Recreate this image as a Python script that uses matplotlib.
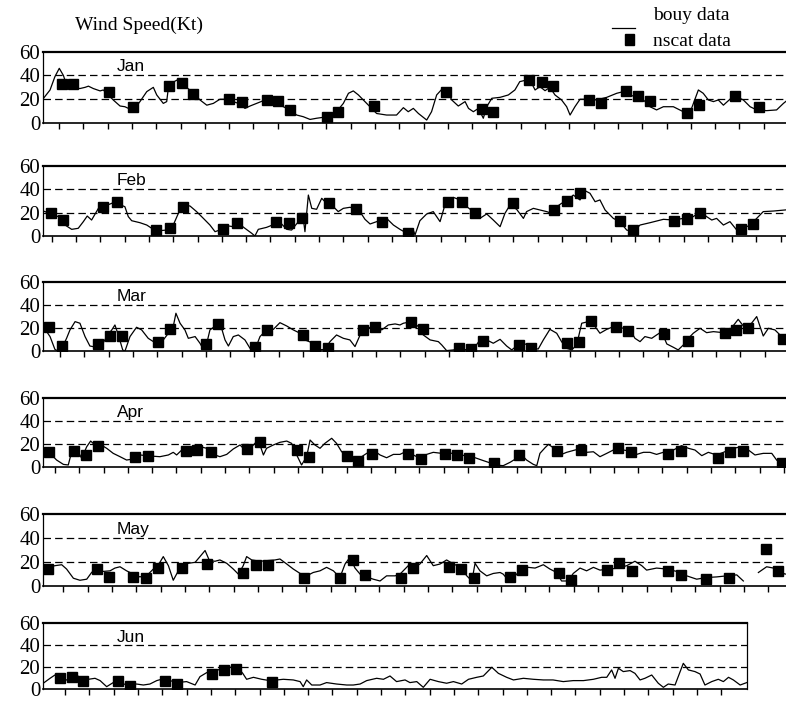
import numpy as np
import matplotlib
matplotlib.use('Agg')
from matplotlib import pyplot as plt
from matplotlib.lines import Line2D
from matplotlib.patches import Rectangle

plt.rcParams['font.family'] = ['Liberation Serif', 'DejaVu Serif']

months = ['Jan', 'Feb', 'Mar', 'Apr', 'May', 'Jun']

# buoy wind speed (kt) vs day of month
jan_day = [0.01, 0.29, 0.49, 0.67, 0.84, 0.97, 1.18, 1.52, 1.73, 1.87, 2.07, 2.35, 2.48, 2.69, 2.89, 3.17, 3.37, 3.65, 3.85, 3.99,
           4.27, 4.54, 4.68, 4.95, 5.09, 5.19, 5.29, 5.50, 5.71, 5.91, 6.19, 6.46, 6.74, 7.01, 7.28, 7.56, 7.83, 8.11, 8.31, 8.52,
           8.79, 9.07, 9.34, 9.62, 9.89, 10.16, 10.44, 10.71, 10.99, 11.26, 11.54, 11.81, 12.08, 12.36, 12.57, 12.77, 12.98, 13.32, 13.73, 14.14,
           14.55, 14.83, 15.03, 15.24, 15.45, 15.79, 15.99, 16.20, 16.41, 16.61, 16.82, 17.09, 17.37, 17.51, 17.71, 17.92, 18.12, 18.26, 18.47, 18.81,
           19.15, 19.42, 19.62, 19.90, 20.11, 20.25, 20.45, 20.66, 20.86, 21.07, 21.34, 21.55, 21.69, 21.89, 22.10, 22.37, 22.78, 23.20, 23.61, 23.88,
           24.16, 24.43, 24.71, 24.98, 25.25, 25.53, 25.94, 26.35, 26.69, 26.97, 27.17, 27.38, 27.59, 27.79, 28.00, 28.27, 28.55, 28.82, 29.10, 29.37,
           29.78, 30.19, 30.47, 30.62]
jan_buoy = [20.5, 27.8, 39, 46, 40, 32, 30, 29, 30, 31, 29, 27, 27.8, 23.6, 19.4, 14.3, 13.7, 11, 14.3, 18,
            26.4, 30, 23.6, 16.5, 18, 34.8, 33.5, 36, 34.8, 30, 25, 19.4, 15, 16.5, 20, 20, 18, 16, 12.3, 14.3,
            16.5, 18.8, 18.8, 17, 13.7, 11, 6.7, 5.3, 3, 4, 4.8, 6.7, 9.5, 16.5, 25, 27, 23.6, 16.5, 8, 6.7,
            6.7, 12.9, 9.5, 12.3, 8, 2.5, 9.5, 23.6, 28.3, 28.3, 19.4, 14.3, 18, 12.3, 9.5, 12.3, 4, 13.7, 20.8, 21.6,
            23.6, 27.8, 34.8, 36.2, 33.4, 27.8, 30.6, 27.2, 30, 23.6, 19.4, 13.7, 6.7, 13.7, 20, 20, 19.4, 21.6, 25, 26.4,
            23.6, 21.6, 19.4, 13.7, 11, 13.7, 13.7, 9.5, 12.3, 27.8, 25, 19.4, 18, 19.4, 15, 20, 22, 19.4, 13.7, 11,
            10.4, 11, 16.5, 19]

feb_day = [0.01, 0.29, 0.63, 0.91, 1.18, 1.45, 1.66, 1.82, 2.00, 2.28, 2.55, 2.83, 3.03, 3.20, 3.37, 3.51, 3.65, 3.99, 4.27, 4.54,
           4.81, 5.09, 5.36, 5.57, 5.78, 6.05, 6.32, 6.60, 6.87, 7.08, 7.35, 7.63, 7.83, 8.04, 8.31, 8.59, 8.72, 8.86, 9.20, 9.55,
           9.82, 10.03, 10.23, 10.51, 10.71, 10.78, 10.92, 11.06, 11.26, 11.47, 11.67, 11.95, 12.15, 12.36, 12.63, 12.98, 13.25, 13.46, 13.73, 14.14,
           14.42, 14.69, 15.03, 15.24, 15.31, 15.51, 15.79, 16.06, 16.34, 16.54, 16.89, 17.16, 17.44, 17.71, 17.98, 18.26, 18.53, 18.81, 19.01, 19.22,
           19.49, 19.77, 19.90, 20.18, 20.45, 20.73, 20.93, 21.14, 21.34, 21.62, 21.82, 22.10, 22.30, 22.51, 22.72, 22.92, 23.13, 23.47, 23.74, 24.02,
           24.29, 24.57, 24.98, 25.53, 25.94, 26.35, 26.76, 27.04, 27.31, 27.52, 27.72, 28.00, 28.27, 28.55, 28.82, 29.10, 29.37, 29.64, 30.06, 30.53,
           30.62]
feb_buoy = [21.4, 19.4, 16.6, 9.4, 5.7, 6.6, 12.3, 17.1, 13.7, 23.7, 25.7, 28, 30.9, 26.6, 25.1, 16.6, 13.1, 11.4, 9.4, 5.7,
            4.6, 5.1, 9.4, 19.4, 26.6, 25.7, 20.9, 15.1, 9.4, 3.7, 5.7, 8.6, 8.0, 10.9, 6.6, 2.3, 0.0, 5.7, 7.4, 10.3,
            10.3, 5.7, 5.1, 12.3, 15.1, 3.7, 35.1, 23.7, 22.9, 32.3, 28, 25.1, 20.9, 23.7, 24.6, 22.9, 14.3, 10.3, 12.3, 15.1,
            9.4, 5.7, 1.7, 5.1, 0.9, 13.1, 18.9, 20.9, 12.3, 26.6, 33.1, 30.9, 25.1, 20.9, 15.1, 18.9, 13.7, 8.0, 19.4, 26.6,
            22.9, 15.1, 20.9, 23.7, 22.3, 20.9, 19.4, 25.1, 28, 30.9, 35.1, 30.9, 38.9, 36.6, 29.4, 30.9, 22.3, 15.1, 12.3, 5.1,
            3.7, 9.4, 11.4, 14.3, 13.7, 15.1, 16.6, 20.9, 16.6, 13.7, 15.1, 9.4, 12.3, 5.1, 6.6, 9.4, 15.1, 20.9, 21.4, 22.3,
            22.5]

mar_day = [0.01, 0.29, 0.49, 0.63, 0.84, 0.97, 1.11, 1.32, 1.52, 1.73, 1.93, 2.21, 2.41, 2.62, 2.83, 2.96, 3.10, 3.28, 3.37, 3.58,
           3.85, 4.06, 4.33, 4.61, 4.95, 5.16, 5.36, 5.47, 5.64, 5.84, 5.98, 6.26, 6.46, 6.60, 6.74, 6.87, 7.15, 7.35, 7.49, 7.63,
           7.83, 8.04, 8.31, 8.52, 8.72, 8.93, 9.20, 9.48, 9.75, 10.03, 10.30, 10.58, 10.78, 11.06, 11.33, 11.60, 11.81, 12.08, 12.36, 12.63,
           12.84, 13.05, 13.32, 13.66, 13.94, 14.21, 14.49, 14.69, 14.83, 15.17, 15.45, 15.65, 15.93, 16.27, 16.41, 16.61, 16.89, 17.16, 17.44, 17.71,
           17.98, 18.26, 18.53, 18.81, 19.08, 19.29, 19.49, 19.90, 20.18, 20.38, 20.59, 20.86, 21.14, 21.34, 21.55, 21.76, 21.96, 22.17, 22.44, 22.72,
           22.92, 23.20, 23.54, 23.88, 24.16, 24.36, 24.57, 24.77, 25.05, 25.25, 25.46, 25.67, 25.94, 26.14, 26.35, 26.56, 26.76, 27.04, 27.31, 27.59,
           28.00, 28.27, 28.61, 28.82, 29.03, 29.37, 29.64, 29.85, 30.12, 30.47, 30.62]
mar_buoy = [21.5, 12.8, 1.7, 0, 5.5, 11.3, 18.6, 25.8, 24.4, 12.8, 4.6, 3.5, 4.6, 12.8, 18.6, 22.9, 14.2, 1.2, 0, 12.8,
            20.9, 18.6, 11.3, 7.5, 9.9, 15.7, 21.5, 33.1, 24.4, 18.6, 11.3, 12.8, 7.0, 1.7, 7.0, 18.6, 22.9, 20.0, 9.9, 4.6,
            12.8, 14.2, 9.9, 2.6, 1.2, 12.8, 18.6, 19.1, 24.9, 22.0, 18.6, 15.7, 9.9, 7.5, 1.2, 1.7, 8.4, 14.2, 11.3, 9.9,
            4.1, 14.2, 20.0, 22.0, 18.6, 22.9, 23.8, 22.9, 24.4, 25.8, 21.5, 14.2, 9.9, 8.4, 5.5, 0.6, 1.2, 2.6, 1.2, 1.7,
            9.9, 9.9, 7.0, 10.4, 4.6, 1.2, 4.6, 6.4, 2.6, 2.0, 9.9, 19.1, 15.7, 8.4, 2.6, 1.2, 5.5, 24.4, 25.8, 21.5,
            15.7, 19.1, 22.0, 20.0, 18.6, 11.3, 8.4, 12.8, 11.3, 14.2, 17.1, 6.4, 3.5, 1.2, 5.5, 11.3, 15.7, 20.0, 16.2, 17.1,
            16.2, 18.6, 27.8, 22.0, 20.9, 30.2, 13.3, 20.0, 18.6, 11.3, 12]

apr_day = [0.01, 0.29, 0.56, 0.84, 1.04, 1.18, 1.39, 1.59, 1.80, 1.96, 2.14, 2.35, 2.62, 2.89, 3.17, 3.44, 3.72, 3.99, 4.40, 4.81,
           5.16, 5.36, 5.50, 5.71, 5.98, 6.19, 6.46, 6.74, 7.01, 7.28, 7.56, 7.83, 8.11, 8.31, 8.59, 8.79, 8.93, 9.07, 9.20, 9.48,
           9.75, 10.03, 10.23, 10.44, 10.64, 10.85, 10.99, 11.19, 11.40, 11.60, 11.88, 12.08, 12.29, 12.57, 12.77, 13.05, 13.32, 13.59, 13.87, 14.14,
           14.42, 14.69, 14.97, 15.24, 15.51, 15.79, 16.06, 16.41, 16.68, 16.96, 17.23, 17.51, 17.78, 18.05, 18.33, 18.60, 18.94, 19.22, 19.49, 19.70,
           19.90, 20.18, 20.32, 20.45, 20.66, 20.80, 21.00, 21.28, 21.55, 21.89, 22.10, 22.37, 22.65, 22.92, 23.20, 23.47, 23.68, 23.88, 24.16, 24.43,
           24.71, 24.98, 25.25, 25.60, 25.94, 26.28, 26.56, 26.83, 27.11, 27.38, 27.72, 28.00, 28.41, 28.75, 29.03, 29.30, 29.64, 29.99, 30.19, 30.40,
           30.62]
apr_buoy = [13.6, 11.6, 5.8, 2.0, 1.5, 13.0, 15.4, 7.3, 17.4, 22.3, 18.9, 19.4, 16.0, 11.6, 8.7, 5.8, 6.7, 10.2, 9.3, 8.7,
            10.2, 12.5, 10.2, 14.5, 12.5, 15.4, 17.4, 16.0, 10.7, 8.7, 10.7, 15.4, 18.9, 14.5, 17.4, 21.8, 18.9, 10.2, 16.0, 18.9,
            21.2, 22.3, 20.3, 10.2, 1.5, 8.7, 23.2, 18.9, 16.0, 20.3, 24.7, 20.3, 13.0, 8.7, 5.8, 7.8, 11.6, 14.5, 10.2, 7.8,
            10.7, 10.7, 13.6, 10.2, 7.3, 10.7, 12.5, 11.6, 12.5, 10.7, 10.2, 8.7, 7.8, 5.8, 3.8, 1.5, 0.9, 3.8, 7.3, 10.2,
            5.8, 2.0, 0.9, 11.6, 16.5, 19.4, 16.5, 10.2, 12.5, 14.5, 15.4, 12.5, 13.0, 8.7, 11.6, 14.5, 18.3, 14.5, 13.6, 10.7,
            12.5, 12.5, 10.7, 13.0, 14.5, 18.3, 16.0, 14.5, 9.6, 12.5, 10.2, 12.5, 16.0, 17.4, 14.5, 10.2, 11.6, 11.6, 5.8, 2.0,
            2.5]

may_day = [0.01, 0.29, 0.49, 0.77, 0.97, 1.25, 1.52, 1.80, 2.00, 2.21, 2.48, 2.76, 2.96, 3.17, 3.44, 3.72, 3.99, 4.33, 4.61, 4.81,
           4.95, 5.16, 5.36, 5.57, 5.78, 5.98, 6.26, 6.46, 6.67, 6.85, 7.08, 7.28, 7.56, 7.83, 8.04, 8.24, 8.38, 8.59, 8.93, 9.20,
           9.55, 9.75, 10.03, 10.30, 10.58, 10.85, 11.12, 11.40, 11.67, 11.95, 12.22, 12.43, 12.63, 12.84, 13.05, 13.32, 13.59, 13.87, 14.14, 14.49,
           14.69, 15.03, 15.24, 15.51, 15.79, 16.06, 16.34, 16.61, 16.89, 17.16, 17.44, 17.65, 17.78, 17.98, 18.26, 18.53, 18.81, 18.94, 19.22, 19.49,
           19.70, 19.97, 20.25, 20.59, 20.86, 21.14, 21.34, 21.62, 21.82, 22.10, 22.37, 22.65, 22.92, 23.33, 23.68, 24.02, 24.36, 24.64, 24.84, 25.25,
           25.66, 26.08, 26.49, 26.90, 27.31, 27.72, 28.14, 28.55, 28.82, 29.10, 29.44, 29.78, 30.06, 30.33, 30.53, 30.62]
may_buoy = [17, 16.1, 17, 17.8, 14.2, 6.5, 4.8, 5.7, 11.3, 15, 12.2, 12.7, 15, 16.1, 12.7, 9.9, 7.6, 9.9, 15.6, 19.8,
            24.6, 17, 4.8, 12.7, 17, 19, 19.8, 24.6, 29.7, 21.2, 20.7, 21.8, 19, 14.2, 9.9, 17, 24.6, 21.8, 20.7, 21.2,
            21.8, 22.6, 18.4, 14.2, 10.5, 8.5, 11.3, 12.7, 15.6, 12.7, 7.1, 18.4, 24, 15, 9.9, 7.6, 5.7, 4.2, 8.5, 8.5,
            9.9, 17, 15, 18.4, 25.5, 17, 18.4, 21.8, 18.4, 16.1, 8.5, 4.2, 19, 12.7, 8.5, 10.5, 11.3, 9.9, 3, 9.9,
            14.2, 15.6, 15, 17.8, 14.2, 11.3, 4.2, 4.2, 10.5, 15, 12.7, 15.6, 13.3, 14.2, 15, 17, 20.7, 17, 13.3, 15,
            14.2, 12.2, 8.5, 5.7, 7.1, 7.6, 8.5, 9.3, 4.2, np.nan, 11.3, 16.1, 15, 12.2, 10, 10]

jun_day = [0.01, 0.29, 0.49, 0.70, 0.91, 1.18, 1.39, 1.59, 1.87, 2.14, 2.35, 2.62, 2.89, 3.10, 3.31, 3.58, 3.85, 4.13, 4.40, 4.68,
           5.02, 5.23, 5.50, 5.91, 6.26, 6.46, 6.74, 7.01, 7.28, 7.56, 7.83, 8.04, 8.22, 8.38, 8.66, 9.00, 9.34, 9.62, 9.89, 10.30,
           10.58, 10.71, 10.85, 11.06, 11.40, 11.67, 12.08, 12.50, 12.77, 13.05, 13.32, 13.73, 14.01, 14.28, 14.55, 14.90, 15.10, 15.38, 15.65, 15.93,
           16.27, 16.61, 16.89, 17.23, 17.51, 17.85, 18.12, 18.47, 18.74, 19.08, 19.36, 19.77, 20.18, 20.59, 20.99, 21.41, 21.82, 22.24, 22.65, 22.99,
           23.20, 23.40, 23.54, 23.68, 23.88, 24.16, 24.36, 24.57, 24.77, 25.05, 25.32, 25.53, 25.73, 26.01, 26.22, 26.35, 26.56, 26.83, 27.04, 27.24,
           27.52, 27.79, 28.00, 28.21, 28.41, 28.69, 28.96]
jun_buoy = [5.5, 10, 13, 10, 7.9, 10.9, 13, 9.1, 9.1, 10, 7.9, 2.4, 6.1, 8.5, 4.8, 3.9, 4.8, 3.9, 4.8, 7.9,
            10, 7.9, 6.1, 7, 3.9, 11.5, 15.2, 16.1, 18.2, 19.1, 20.6, 19.1, 14.5, 9.1, 10.9, 9.1, 7.9, 8.5, 9.1, 8.5,
            7, 2.4, 8.5, 3.9, 3.9, 6.1, 4.8, 3.9, 3.9, 4.8, 7.9, 10, 9.1, 12.1, 7, 8.5, 6.1, 7, 1.8, 9.1,
            7, 5.5, 7, 4.8, 9.1, 10.9, 12.1, 20, 14.5, 10.9, 8.5, 10, 9.1, 8.5, 8.5, 7, 7.9, 7.9, 9.1, 10.9,
            10.9, 17.6, 10, 19.1, 16.1, 17, 14.5, 8.5, 10, 13, 5.5, 1.8, 4.8, 3.9, 16.1, 23.6, 17.6, 16.1, 13.9, 3.9,
            7, 9.1, 7, 10.9, 8.5, 3.9, 6.1]

# NSCAT retrievals
jan_nscat_day = [0.77, 1.25, 2.73, 3.72, 5.20, 5.71, 6.16, 7.67, 8.18, 9.20, 9.68, 10.16, 11.67, 12.15, 13.64,
                 16.59, 18.05, 18.53, 20.01, 20.52, 21.00, 22.48, 22.95, 23.99, 24.47, 24.98, 26.49, 27.00, 28.48, 29.46]
jan_nscat = [32.8, 32.5, 26.4, 13.7, 31.0, 33.4, 24.4, 20.0, 18.0, 19.4, 18.8, 11.0, 5.3, 9.5, 14.3,
             26.4, 11.5, 9.5, 36.2, 34.2, 31.4, 19.4, 17.1, 27.2, 22.7, 18.5, 8.1, 15.1, 22.7, 13.2]
feb_nscat_day = [0.32, 0.84, 2.48, 3.03, 4.65, 5.23, 5.78, 7.39, 7.97, 9.59, 10.14, 10.64, 11.77, 12.88, 13.94,
                 15.03, 16.68, 17.23, 17.78, 19.36, 21.03, 21.55, 22.10, 23.74, 24.29, 25.97, 26.52, 27.04, 28.71, 29.23]
feb_nscat = [19.4, 13.7, 25.1, 29.4, 5.1, 7.1, 25.1, 6.0, 10.9, 12.3, 10.9, 15.7, 28.0, 23.1, 12.3,
             2.3, 29.4, 29.4, 20.0, 28.6, 22.3, 30.0, 36.6, 12.9, 5.1, 13.1, 14.3, 20.0, 5.7, 10.3]
mar_nscat_day = [0.26, 0.80, 2.25, 2.76, 3.24, 4.75, 5.23, 6.71, 7.22, 8.72, 9.20, 10.71, 11.19, 11.71, 13.18, 13.66,
                 15.13, 15.62, 17.12, 17.60, 18.09, 19.60, 20.08, 21.58, 22.07, 22.55, 23.58, 24.06, 25.55, 26.56, 28.07, 28.52, 29.03, 30.47]
mar_nscat = [21.5, 4.9, 6.4, 13.6, 13.6, 7.8, 19.1, 6.4, 23.5, 4.1, 18.6, 14.2, 4.9, 3.2, 18.6, 21.5,
             25.2, 19.1, 2.6, 2.0, 9.3, 5.5, 3.2, 7.5, 8.4, 26.4, 21.5, 17.7, 15.1, 9.3, 15.7, 18.6, 20.6, 10.7]
apr_nscat_day = [0.26, 1.28, 1.77, 2.28, 3.79, 4.33, 5.88, 6.35, 6.90, 8.41, 8.93, 10.47, 10.96, 12.50, 12.98, 13.53,
                 15.03, 15.54, 16.54, 17.02, 17.54, 18.57, 19.60, 21.14, 22.14, 23.68, 24.20, 25.73, 26.24, 27.79, 28.27, 28.82, 30.40]
apr_nscat = [13.0, 13.6, 10.2, 18.0, 8.7, 9.6, 13.6, 14.5, 12.5, 15.4, 21.8, 14.5, 8.7, 9.6, 4.9, 10.7,
             10.7, 6.7, 11.0, 10.2, 7.3, 2.9, 10.2, 13.6, 14.5, 16.5, 13.0, 10.7, 13.6, 7.3, 12.5, 13.6, 2.9]
may_nscat_day = [0.22, 2.21, 2.73, 3.72, 4.22, 4.72, 5.71, 6.74, 8.24, 8.77, 9.25, 10.74, 12.22, 12.74, 13.25,
                 14.72, 15.21, 16.72, 17.19, 17.74, 19.22, 19.70, 21.24, 21.72, 23.22, 23.72, 24.22, 25.73, 26.26, 27.28, 28.25, 29.75, 30.26]
may_nscat = [14.2, 14.2, 7.9, 7.9, 7.1, 14.7, 15.0, 18.4, 10.5, 17.5, 17.5, 7.1, 7.1, 21.8, 9.1,
             6.5, 15.0, 16.1, 14.2, 7.1, 7.9, 13.3, 10.5, 4.8, 13.3, 19.0, 12.7, 12.7, 9.3, 5.7, 7.1, 30.6, 12.2]
jun_nscat_day = [0.70, 1.18, 1.66, 3.10, 3.58, 5.02, 5.50, 6.97, 7.46, 7.93, 9.41]
jun_nscat = [10.0, 10.9, 7.9, 7.9, 3.0, 7.9, 4.8, 13.9, 17.6, 18.2, 7.0]

buoy = [(jan_day, jan_buoy), (feb_day, feb_buoy), (mar_day, mar_buoy),
        (apr_day, apr_buoy), (may_day, may_buoy), (jun_day, jun_buoy)]
nscat = [(jan_nscat_day, jan_nscat), (feb_nscat_day, feb_nscat), (mar_nscat_day, mar_nscat),
         (apr_nscat_day, apr_nscat), (may_nscat_day, may_nscat), (jun_nscat_day, jun_nscat)]

# panel layout in pixels (top, bottom, right) and first tick position
W, H = 786, 701
panels = [(51.7, 123, 787), (166, 236, 787), (282.3, 351.3, 787),
          (397.7, 466.7, 787), (514.3, 586, 787), (623.3, 689.3, 746.7)]
tick_start = [0.66, 0.36, 0.70, 0.49, 0.84, 0.91]
px_per_day = 24.3
left = 43

fig = plt.figure(figsize=(W / 100, H / 100), dpi=100)

for i, m in enumerate(months):
    top, bot, right = panels[i]
    ax = fig.add_axes([left / W, 1 - bot / H, (right - left) / W, (bot - top) / H])
    d, v = buoy[i]
    ax.plot(d, v, color='black', lw=0.9, solid_joinstyle='round')
    d, v = nscat[i]
    ax.plot(d, v, ls='none', marker='s', ms=6.6, color='black')
    for lvl in (20, 40):
        ax.axhline(lvl, color='black', lw=0.9, ls=(0, (6, 3.3)))
    xmax = (right - left) / px_per_day
    ax.set_xlim(0, xmax)
    ax.set_ylim(0, 60)
    ax.set_xticks(np.arange(tick_start[i], xmax - 0.05, 1.0))
    ax.set_xticklabels([])
    ax.tick_params(axis='x', direction='out', length=4, width=1.0, color='black')
    ax.set_yticks([0, 20, 40, 60])
    ax.set_yticklabels(['0', '20', '40', '60'], fontsize=15)
    ax.tick_params(axis='y', length=0, pad=2)
    ax.spines['top'].set_linewidth(1.6)
    ax.spines['left'].set_linewidth(0.9)
    ax.spines['bottom'].set_linewidth(1.2)
    ax.spines['right'].set_linewidth(0.9)
    ax.annotate(m, xy=(0, 0.79), xycoords='axes fraction', xytext=(53, 0),
                textcoords='offset points', ha='left', va='center',
                fontsize=12.5, family=['Liberation Sans', 'DejaVu Sans'])

fig.text(75 / W, 1 - 25 / H, 'Wind Speed(Kt)', ha='left', va='center', fontsize=14)

# legend
fig.add_artist(Line2D([612 / W, 635 / W], [1 - 28 / H, 1 - 28 / H], color='black', lw=0.9,
                      transform=fig.transFigure))
fig.add_artist(Rectangle((625 / W, 1 - 45 / H), 9 / W, 11 / H, color='black',
                         transform=fig.transFigure))
fig.text(653 / W, 1 - 16 / H, 'bouy data', ha='left', va='center', fontsize=14)
fig.text(653 / W, 1 - 41 / H, 'nscat data', ha='left', va='center', fontsize=14)

fig.savefig('out.png', dpi=100)
